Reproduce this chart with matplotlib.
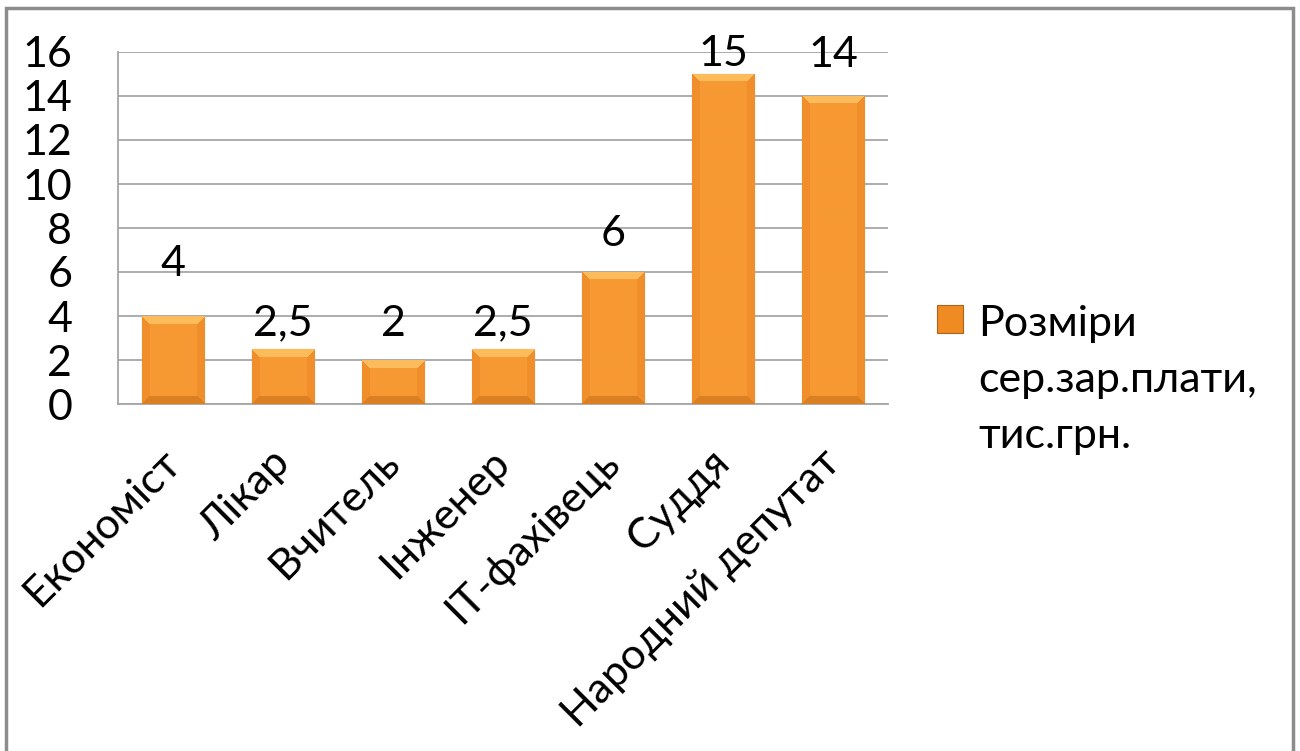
import numpy as np
import matplotlib.pyplot as plt
from matplotlib.patches import Rectangle
from matplotlib.transforms import ScaledTranslation

plt.rcParams['font.family'] = ['Lato', 'DejaVu Sans']

# Data
professions = ["Економіст", "Лікар", "Вчитель", "Інженер", "IT-фахівець", "Суддя", "Народний депутат"]
salaries = [4, 2.5, 2, 2.5, 6, 15, 14]
value_labels = ["4", "2,5", "2", "2,5", "6", "15", "14"]
series_name = "Розміри\nсер.зар.плати,\nтис.грн."

# label offsets above bar tops (points), as placed in the original
label_offsets = [24, 5, 12, 5, 14, 1, 16]

fsize = 31

fig = plt.figure(figsize=(13, 7.51), dpi=100)
ax = fig.add_axes([118 / 1300, 1 - 404 / 751, 770 / 1300, 352 / 751])

x = np.arange(len(professions))
bars = ax.bar(x, salaries, width=0.57, color="#F7962E", edgecolor="#B0621A",
              linewidth=0.8, zorder=3, label=series_name)

ax.set_xlim(-0.5, len(professions) - 0.5)
ax.set_ylim(0, 16)
ax.set_yticks(range(0, 17, 2))
ax.grid(axis="y", color="#A6A6A6", linewidth=1.3, zorder=0)
for s in ["top", "right"]:
    ax.spines[s].set_visible(False)
for s in ["left", "bottom"]:
    ax.spines[s].set_color("#A6A6A6")
    ax.spines[s].set_linewidth(1.3)
ax.tick_params(length=0)
ax.tick_params(axis="y", labelsize=fsize, pad=33)
ax.set_xticks(x)
ax.set_xticklabels(professions, fontsize=fsize, rotation=45, ha="right")
ax.tick_params(axis="x", pad=28)
for lab in ax.get_xticklabels():
    lab.set_transform(lab.get_transform() + ScaledTranslation(10 / 72, 0, fig.dpi_scale_trans))


# bevelled fill for each bar
def bevel(nr, nc, b=8):
    img = np.zeros((nr, nc, 3))
    img[:] = (0.97, 0.60, 0.20)
    for i in range(nr):
        for j in range(nc):
            d = {"t": i, "b": nr - 1 - i, "l": j, "r": nc - 1 - j}
            k = min(d, key=d.get)
            if d[k] < b:
                if k == "t":
                    img[i, j] = (0.99, 0.74, 0.36)
                elif k == "b":
                    img[i, j] = (0.86, 0.50, 0.14)
                else:
                    img[i, j] = (0.94, 0.56, 0.17)
    return img


for bar in bars:
    x0, w, h = bar.get_x(), bar.get_width(), bar.get_height()
    p0 = ax.transData.transform((x0, 0))
    p1 = ax.transData.transform((x0 + w, h))
    nc = max(int(round(abs(p1[0] - p0[0]))), 2)
    nr = max(int(round(abs(p1[1] - p0[1]))), 2)
    im = ax.imshow(bevel(nr, nc), extent=(x0, x0 + w, 0, h), aspect="auto",
                   zorder=3.5, interpolation="bilinear")
    im.set_clip_path(bar)

ax.set_xlim(-0.5, len(professions) - 0.5)
ax.set_ylim(0, 16)

for xi, v, t, off in zip(x, salaries, value_labels, label_offsets):
    ax.annotate(t, (xi, v), xytext=(0, off), textcoords="offset points",
                ha="center", va="bottom", fontsize=fsize, zorder=5)

leg = fig.legend(handles=[bars], labels=[series_name], loc="upper left",
                 bbox_to_anchor=(898 / 1300, 1 - 266 / 751), frameon=False,
                 fontsize=fsize, handlelength=0.62, handleheight=0.62,
                 handletextpad=0.35)
for col in leg._legend_handle_box.get_children():
    for item in col.get_children():
        item.align = "top"
leg.get_texts()[0].set_linespacing(1.58)
leg.legend_handles[0].set_facecolor("#F08A22")

# outer frame
fig.patches.append(Rectangle((6 / 1300, -0.05), 1287 / 1300, 1.05 - 8 / 751,
                             transform=fig.transFigure, fill=False,
                             edgecolor="#8C8C8C", linewidth=2.5))

fig.savefig("out.png", dpi=100)
